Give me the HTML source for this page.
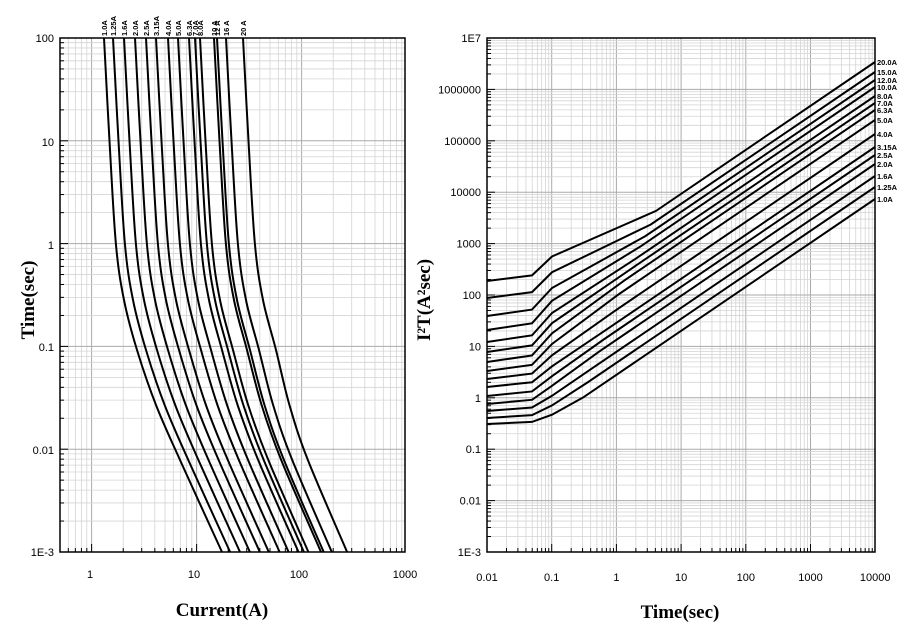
<!DOCTYPE html><html><head><style>body{margin:0;background:#fff}svg{display:block}</style></head><body>
<svg id="s" width="900" height="630" xmlns="http://www.w3.org/2000/svg" font-family="Liberation Sans, sans-serif"></svg>
<script>
const s=document.getElementById('s');let h='';
function L(x1,y1,x2,y2,c,w){h+=`<line x1="${x1}" y1="${y1}" x2="${x2}" y2="${y2}" stroke="${c}" stroke-width="${w}"/>`;}
function T(x,y,t,a,sz,extra){h+=`<text x="${x}" y="${y}" text-anchor="${a}" font-size="${sz}" ${extra||''}>${t}</text>`;}
function grid(x0,x1,y0,y1,xl0,xdec,ydecTop,ydec){
 for(let d=-4;d<8;d++)for(let m=1;m<10;m++){let v=Math.log10(m)+d;let x=x0+(v-xl0)*xdec;if(x<x0-0.1||x>x1+0.1)continue;L(x,y0,x,y1,m==1?'#aaa':'#d4d4d4',m==1?1:0.8);L(x,y1,x,y1-(m==1?8:4),'#000',1);}
 for(let d=-4;d<8;d++)for(let m=1;m<10;m++){let v=Math.log10(m)+d;let y=y0+(ydecTop-v)*ydec;if(y<y0-0.1||y>y1+0.1)continue;L(x0,y,x1,y,m==1?'#aaa':'#d4d4d4',m==1?1:0.8);L(x0,y,x0+(m==1?8:4),y,'#000',1);}
}
function smooth(p){let d=`M${p[0][0]},${p[0][1]}`;for(let i=0;i<p.length-1;i++){let p0=p[Math.max(0,i-1)],p1=p[i],p2=p[i+1],p3=p[Math.min(p.length-1,i+2)];d+=` C${p1[0]+(p2[0]-p0[0])/6},${p1[1]+(p2[1]-p0[1])/6} ${p2[0]-(p3[0]-p1[0])/6},${p2[1]-(p3[1]-p1[1])/6} ${p2[0]},${p2[1]}`;}return d;}
grid(60,405,38,552,Math.log10(0.5),105,2,102.8);
const tops=[104,113,124,135,146,156,168,178,189,195,200,214,217,226,243];
const lab2=['1.0A','1.25A','1.6A','2.0A','2.5A','3.15A','4.0A','5.0A','6.3A','7.0A','8.0A','10 A','12 A','16 A','20 A'];
const base=[[104,38,1],[110,150,1],[116,245,1],[124,300,1],[137,350,1],[156,405,0.96],[180,460,0.92],[222,552,0.9]];
tops.forEach((t,i)=>{let dx=t-104;let p=base.map(b=>[b[0]+dx*b[2],b[1]]);
 h+=`<path d="${smooth(p)}" fill="none" stroke="#000" stroke-width="2"/>`;
 h+=`<text transform="translate(${t+3},36) rotate(-90)" font-size="7.5" font-weight="bold">${lab2[i]}</text>`;});
h+=`<rect x="60" y="38" width="345" height="514" fill="none" stroke="#000" stroke-width="1.5"/>`;
[['100',41],['10',145],['1',248],['0.1',350],['0.01',453],['1E-3',555]].forEach(a=>T(54,a[1]+1,a[0],'end',11));
[['1',90],['10',194],['100',299],['1000',405]].forEach(a=>T(a[1],578,a[0],'middle',11));
h+=`<text transform="translate(34,300) rotate(-90)" text-anchor="middle" font-size="19" font-weight="bold" font-family="Liberation Serif, serif">Time(sec)</text>`;
T(222,616,'Current(A)','middle',19,'font-weight="bold" font-family="Liberation Serif, serif"');
grid(487,875,38,552,-2,64.7,7,51.4);
const yR=[199,187,176,164,155,147,134,120,110,103,96,87,80,72,62];
const yL=[424,418,411,404,396,387,379,371,362,352,342,330,316,298,281];
const rl=['1.0A','1.25A','1.6A','2.0A','2.5A','3.15A','4.0A','5.0A','6.3A','7.0A','8.0A','10.0A','12.0A','15.0A','20.0A'];
yR.forEach((yr,i)=>{let f=i/14;let xk=583+f*73;let yk=yr+0.68*(875-xk);if(yk>yL[i]-15)yk=yL[i]-15;
 let ym=yL[i]-0.35*(yL[i]-yk);let y05=yL[i]-0.08*(yL[i]-yk);
 h+=`<polyline points="487,${yL[i]} 532,${y05} 552,${ym} ${xk},${yk} 875,${yr}" fill="none" stroke="#000" stroke-width="2"/>`;
 T(877,yr+3,rl[i],'start',7.5,'font-weight="bold"');});
h+=`<rect x="487" y="38" width="388" height="514" fill="none" stroke="#000" stroke-width="1.5"/>`;
['1E7','1000000','100000','10000','1000','100','10','1','0.1','0.01','1E-3'].forEach((t,i)=>T(481,42+i*51.4,t,'end',11));
['0.01','0.1','1','10','100','1000','10000'].forEach((t,i)=>T(487+i*64.7,581,t,'middle',11));
h+=`<text transform="translate(430,300) rotate(-90)" text-anchor="middle" font-size="19" font-weight="bold" font-family="Liberation Serif, serif">I²T(A²sec)</text>`;
T(680,618,'Time(sec)','middle',19,'font-weight="bold" font-family="Liberation Serif, serif"');
s.innerHTML=h;
</script></body></html>
